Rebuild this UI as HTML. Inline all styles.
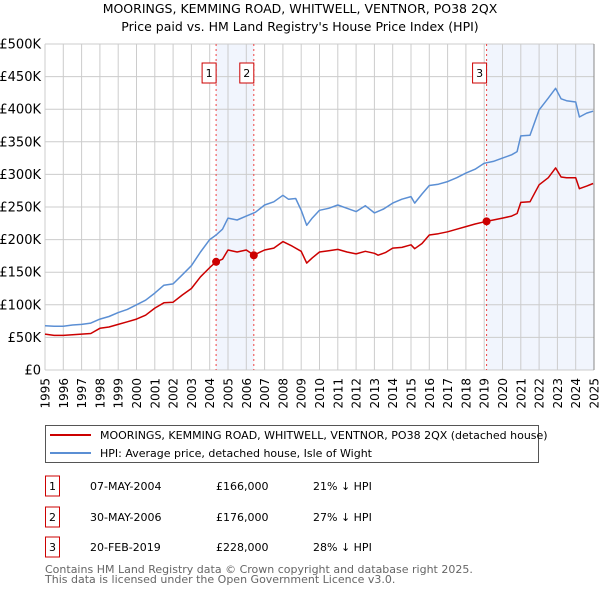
<!DOCTYPE html>
<html><head><meta charset="utf-8"><style>
body{margin:0;background:#fff;font-family:"Liberation Sans","DejaVu Sans",sans-serif;}
svg{display:block}
</style></head><body>
<svg id="chart" width="600" height="590" viewBox="0 0 600 590" xmlns="http://www.w3.org/2000/svg" font-family="DejaVu Sans, Liberation Sans, sans-serif">
<text x="300" y="13" text-anchor="middle" font-size="12.5" fill="#000">MOORINGS, KEMMING ROAD, WHITWELL, VENTNOR, PO38 2QX</text>
<text x="300" y="31" text-anchor="middle" font-size="12.5" fill="#000">Price paid vs. HM Land Registry's House Price Index (HPI)</text>
<g id="plot"></g>
<g>
<rect x="45.5" y="425.5" width="493" height="37" fill="#fff" stroke="#555" stroke-width="1"/>
<line x1="50" y1="435" x2="91" y2="435" stroke="#cc0000" stroke-width="2"/>
<text x="100" y="439" font-size="11">MOORINGS, KEMMING ROAD, WHITWELL, VENTNOR, PO38 2QX (detached house)</text>
<line x1="50" y1="453" x2="91" y2="453" stroke="#5b8fd4" stroke-width="2"/>
<text x="100" y="457" font-size="11">HPI: Average price, detached house, Isle of Wight</text>
</g>
<g id="table" font-size="11" fill="#000"></g>
<text x="45" y="573" font-size="11" fill="#666">Contains HM Land Registry data © Crown copyright and database right 2025.</text>
<text x="45" y="583" font-size="11" fill="#666">This data is licensed under the Open Government Licence v3.0.</text>
</svg>
<script>
const hpiYears=[1995,1995.5,1996,1996.5,1997,1997.5,1998,1998.5,1999,1999.5,2000,2000.5,2001,2001.5,2002,2002.5,2003,2003.5,2004,2004.35,2004.7,2005,2005.5,2006,2006.5,2007,2007.5,2008,2008.3,2008.7,2009,2009.3,2009.6,2010,2010.5,2011,2011.5,2012,2012.5,2013,2013.5,2014,2014.5,2015,2015.2,2015.6,2016,2016.5,2017,2017.5,2018,2018.5,2019,2019.5,2020,2020.5,2020.8,2021,2021.5,2022,2022.5,2022.9,2023.2,2023.5,2024,2024.2,2024.6,2024.95];
const hpiValues=[68,67,67,69,70,72,78,82,88,93,100,107,118,130,132,146,160,181,200,207,216,233,230,236,242,253,258,268,262,263,245,222,233,245,248,253,248,243,252,241,247,256,262,266,256,270,283,285,289,295,302,308,317,320,325,330,335,359,360,399,417,432,416,413,411,388,394,397];
const ppYears=[1995,1995.5,1996,1996.5,1997,1997.5,1998,1998.5,1999,1999.5,2000,2000.5,2001,2001.5,2002,2002.5,2003,2003.5,2004,2004.35,2004.7,2005,2005.5,2006,2006.42,2006.7,2007,2007.5,2008,2008.5,2009,2009.3,2009.6,2010,2010.5,2011,2011.5,2012,2012.5,2013,2013.2,2013.6,2014,2014.5,2015,2015.2,2015.6,2016,2016.5,2017,2017.5,2018,2018.5,2019.13,2019.5,2020,2020.5,2020.8,2021,2021.5,2022,2022.5,2022.9,2023.2,2023.5,2024,2024.2,2024.6,2024.95];
const ppValues=[55,53,53,54,55,56,64,66,70,74,78,84,95,103,104,115,125,143,157,166,170,184,181,184,176,180,184,187,197,190,182,164,172,181,183,185,181,178,182,179,176,180,187,188,192,186,194,207,209,212,216,220,224,228,230,233,236,240,257,258,284,295,310,296,295,295,278,282,286];
const sales=[{n:"1",year:2004.35,val:166,date:"07-MAY-2004",price:"£166,000",pct:"21% ↓ HPI"},{n:"2",year:2006.41,val:176,date:"30-MAY-2006",price:"£176,000",pct:"27% ↓ HPI"},{n:"3",year:2019.13,val:228,date:"20-FEB-2019",price:"£228,000",pct:"28% ↓ HPI"}];
const yTicks=[0,50,100,150,200,250,300,350,400,450,500];
const yTickLabels=["£0","£50K","£100K","£150K","£200K","£250K","£300K","£350K","£400K","£450K","£500K"];
const xTicks=[];for(let y=1995;y<=2025;y++)xTicks.push(y);

const X0=45,X1=594,Y0=370,Y1=44;
const xs=y=>X0+(y-1995)/(2025-1995)*(X1-X0);
const ys=v=>Y0-v/500*(Y0-Y1);
const NS="http://www.w3.org/2000/svg";
const plot=document.getElementById('plot');
function mk(tag,attrs,parent){const e=document.createElementNS(NS,tag);for(const k in attrs)e.setAttribute(k,attrs[k]);(parent||plot).appendChild(e);return e;}

const s1=mk('rect',{x:xs(sales[0].year),y:Y1,width:xs(sales[1].year)-xs(sales[0].year),height:Y0-Y1,fill:'#eef3fc',opacity:0.8});


const s2=mk('rect',{x:xs(sales[2].year),y:Y1,width:X1-xs(sales[2].year),height:Y0-Y1,fill:'#eef3fc',opacity:0.8});



yTicks.forEach((t,i)=>{
  const l=mk('line',{x1:X0,x2:X1,y1:ys(t),y2:ys(t),stroke:'#cccccc','stroke-width':1});
  
  
  const tx=mk('text',{x:X0-4,y:ys(t)+4.5,'text-anchor':'end','font-size':13,fill:'#000'});
  tx.textContent=yTickLabels[i];
  
  
});
xTicks.forEach(t=>{
  const l=mk('line',{x1:xs(t),x2:xs(t),y1:Y1,y2:Y0,stroke:'#cccccc','stroke-width':1});
  
  
  const tx=mk('text',{x:0,y:0,'text-anchor':'end','font-size':12,fill:'#000',transform:`translate(${xs(t)+4.5},${Y0+8}) rotate(-90)`});
  tx.textContent=t;
  
  
});
const rb=mk('line',{x1:X1,x2:X1,y1:Y1,y2:Y0,stroke:'#888','stroke-width':1});



sales.forEach(s=>{
  const l=mk('line',{x1:xs(s.year),x2:xs(s.year),y1:Y1,y2:Y0,stroke:'#ee4444','stroke-width':1,'stroke-dasharray':'2,3'});
  
  
  const bx=mk('rect',{x:xs(s.year)-14,y:63,width:14,height:20,fill:'#fff',stroke:'#cc0000','stroke-width':1});
  
  
  const tx=mk('text',{x:xs(s.year)-7,y:77,'text-anchor':'middle','font-size':11});
  tx.textContent=s.n;
  
  
});

function path(xa,va){return xa.map((y,i)=>(i?'L':'M')+xs(y).toFixed(1)+','+ys(va[i]).toFixed(1)).join('');}
const hp=mk('path',{d:path(hpiYears,hpiValues),fill:'none',stroke:'#5b8fd4','stroke-width':1.5,'stroke-linejoin':'round'});


const pp=mk('path',{d:path(ppYears,ppValues),fill:'none',stroke:'#cc0000','stroke-width':1.5,'stroke-linejoin':'round'});


sales.forEach(s=>{
  const c=mk('circle',{cx:xs(s.year),cy:ys(s.val),r:4,fill:'#cc0000'});
  
  
});

const tb=document.getElementById('table');
const rowY=[486,517,547];
sales.forEach((s,i)=>{
  const y=rowY[i];
  const b=mk('rect',{x:45.5,y:y-10,width:14,height:20,fill:'#fff',stroke:'#cc0000','stroke-width':1},tb);
  
  
  [[52.5,s.n,'middle','table-number'],[90,s.date,'start','table-date'],[216,s.price,'start','table-price'],[313,s.pct,'start','table-hpi-diff']].forEach(c=>{
    const t=mk('text',{x:c[0],y:y+4,'text-anchor':c[2]},tb);
    t.textContent=c[1];
    
    
  });
});
</script>
</body></html>
